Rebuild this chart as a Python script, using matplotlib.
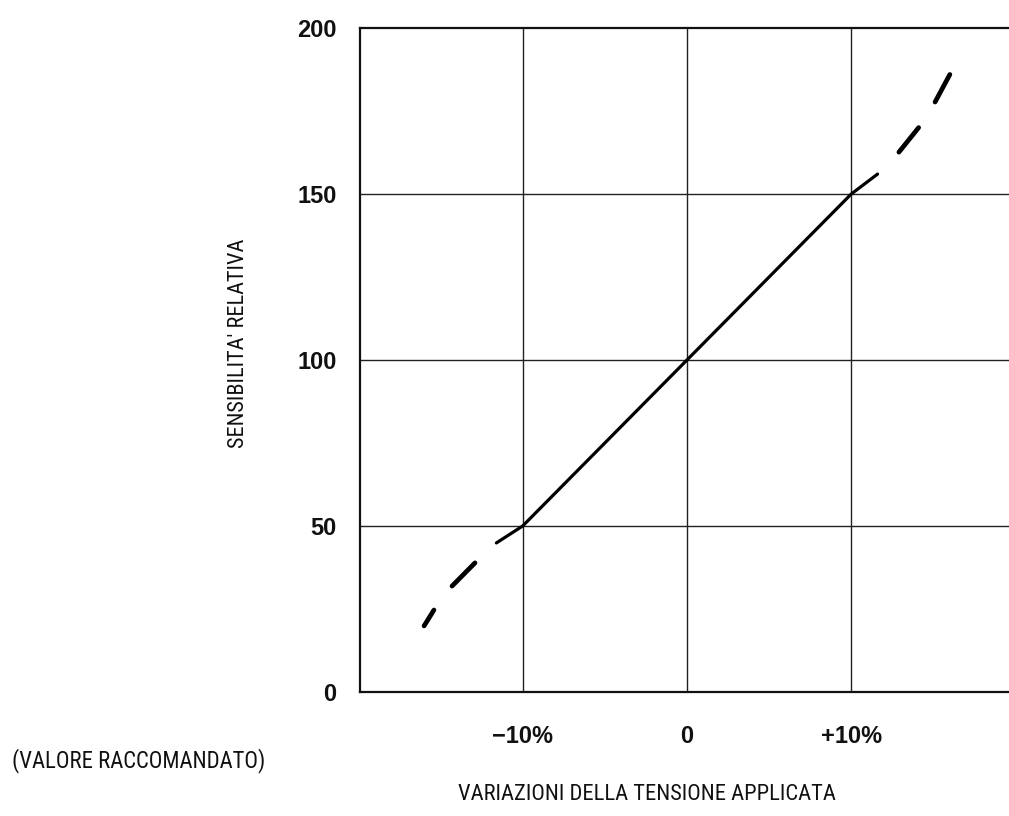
import matplotlib
matplotlib.use("Agg")
import matplotlib.pyplot as plt
from matplotlib import font_manager

# ---- data ----
x_ticks = [-10, 0, 10]
x_tick_labels = ["\u221210%", "0", "+10%"]
y_ticks = [0, 50, 100, 150, 200]
y_tick_labels = ["0", "50", "100", "150", "200"]

# curve points (variation %, relative sensitivity)
curve_x = [-16.0, -15.4, -14.3, -12.9, -11.6, -10.0, 0.0, 10.0, 11.6, 12.9, 14.1, 15.1, 16.0]
curve_y = [19.9, 24.7, 31.9, 38.9, 44.9, 50.0, 100.0, 150.0, 156.0, 162.6, 170.0, 177.7, 186.0]
solid_range = (4, 8)               # indices of solid part (inclusive)
dash_pairs = [(0, 1), (2, 3), (9, 10), (11, 12)]

x_label = "VARIAZIONI DELLA TENSIONE APPLICATA"
y_label = "SENSIBILITA' RELATIVA"
note = "(VALORE RACCOMANDATO)"

# ---- fonts ----
available = {f.name for f in font_manager.fontManager.ttflist}
cond_candidates = ["Roboto Condensed", "Open Sans Condensed", "Liberation Sans Narrow",
                   "DejaVu Sans Condensed", "Liberation Sans"]
cond_font = next((c for c in cond_candidates if c in available), "DejaVu Sans")
tick_font = "Liberation Sans" if "Liberation Sans" in available else "DejaVu Sans"

W, H = 1009, 816
fig = plt.figure(figsize=(W / 100, H / 100), dpi=100)
left_px, right_px, top_px, bottom_px = 360, 1009, 28, 692
ax = fig.add_axes([left_px / W, 1 - bottom_px / H,
                   (right_px - left_px) / W, (bottom_px - top_px) / H])
ax.set_xlim(-19.9, 19.6)
ax.set_ylim(0, 200)

# grid
for gx in x_ticks:
    ax.axvline(gx, color="#222222", lw=1.0, zorder=1)
for gy in y_ticks[1:-1]:
    ax.axhline(gy, color="#222222", lw=1.0, zorder=1)

# curve
s0, s1 = solid_range
ax.plot(curve_x[s0:s1 + 1], curve_y[s0:s1 + 1], color="black", lw=2.3,
        solid_capstyle="round", zorder=3)
for a, b in dash_pairs:
    ax.plot(curve_x[a:b + 1], curve_y[a:b + 1], color="black", lw=3.4,
            solid_capstyle="round", zorder=3)

# spines
for side in ["left", "bottom", "top"]:
    ax.spines[side].set_linewidth(1.6)
    ax.spines[side].set_color("#111111")
ax.spines["right"].set_visible(False)

ax.set_xticks(x_ticks)
ax.set_xticklabels(x_tick_labels)
ax.set_yticks(y_ticks)
ax.set_yticklabels(y_tick_labels)
ax.tick_params(axis="both", length=0)
ax.tick_params(axis="y", pad=17)
ax.tick_params(axis="x", pad=24)
for lab in ax.get_xticklabels() + ax.get_yticklabels():
    lab.set_fontfamily(tick_font)
    lab.set_fontweight("bold")
    lab.set_fontsize(17)
    lab.set_color("#111111")

fig.text(238 / W, 1 - 343 / H, y_label, rotation=90, ha="center", va="center",
         fontsize=16, family=cond_font, color="#111111")
fig.text(647 / W, 1 - 794 / H, x_label, ha="center", va="center",
         fontsize=16.2, family=cond_font, color="#111111")
fig.text(12 / W, 1 - 761 / H, note, ha="left", va="center",
         fontsize=16.4, family=cond_font, color="#111111")

fig.savefig("out.png", dpi=100, facecolor="white")
